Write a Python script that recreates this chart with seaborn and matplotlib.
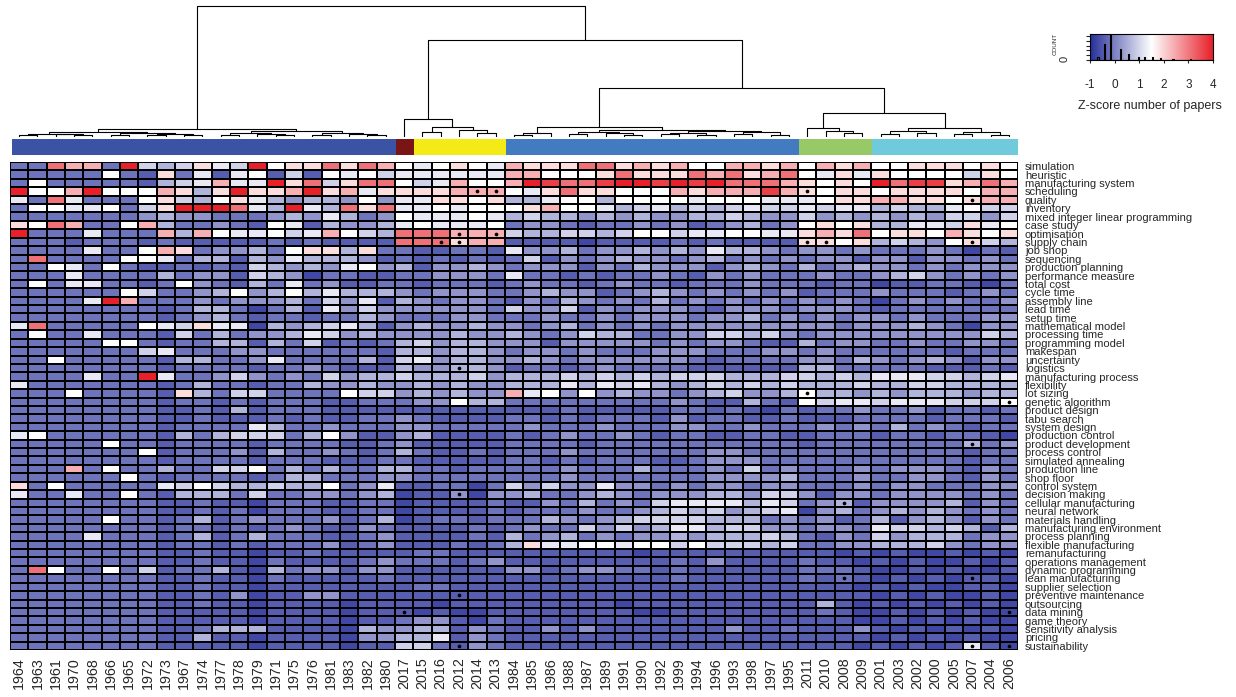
import numpy as np
import pandas as pd
import matplotlib
matplotlib.use("Agg")
import matplotlib.pyplot as plt
import seaborn as sns
from matplotlib.colors import LinearSegmentedColormap, ListedColormap

sns.set_style("white")
plt.rcParams["font.family"] = ["Liberation Sans", "DejaVu Sans"]

# ---------------- data ----------------
years = [1964, 1963, 1961, 1970, 1968, 1966, 1965, 1972, 1973, 1967, 1974, 1977, 1978, 1979,
         1971, 1975, 1976, 1981, 1983, 1982, 1980,
         2017, 2015, 2016, 2012, 2014, 2013,
         1984, 1985, 1986, 1988, 1987, 1989, 1991, 1990, 1992, 1999, 1994, 1996, 1993, 1998,
         1997, 1995,
         2011, 2010, 2008, 2009,
         2001, 2003, 2002, 2000, 2005, 2007, 2004, 2006]

terms = ["simulation", "heuristic", "manufacturing system", "scheduling", "quality", "inventory",
         "mixed integer linear programming", "case study", "optimisation", "supply chain",
         "job shop", "sequencing", "production planning", "performance measure", "total cost",
         "cycle time", "assembly line", "lead time", "setup time", "mathematical model",
         "processing time", "programming model", "makespan", "uncertainty", "logistics",
         "manufacturing process", "flexibility", "lot sizing", "genetic algorithm",
         "product design", "tabu search", "system design", "production control",
         "product development", "process control", "simulated annealing", "production line",
         "shop floor", "control system", "decision making", "cellular manufacturing",
         "neural network", "materials handling", "manufacturing environment", "process planning",
         "flexible manufacturing", "remanufacturing", "operations management",
         "dynamic programming", "lean manufacturing", "supplier selection",
         "preventive maintenance", "outsourcing", "data mining", "game theory",
         "sensitivity analysis", "pricing", "sustainability"]

# z-score, one character per cell
level_z = {"0": -0.70, "1": -0.42, "2": -0.17, "3": 0.22, "4": 0.59, "5": 0.96, "6": 1.24,
           "7": 1.50, "8": 1.88, "9": 2.39, "a": 3.10, "r": 3.65, "b": 4.00}

z_codes = [
    "22a992b545865b788a8a9" "7678769888aa8989779989" "798977888787",
    "222227218261671517675" "666666997778a888a9a89a" "768687777587",
    "27222221456966b8a58aa" "7569779braarbbrbrbaaa9" "8787barr89a9",
    "b779b7779848b889b8968" "888999768a8877798999r9" "878878888799",
    "62a622278547864344373" "6688784467747777677766" "678899887899",
    "277667258bbba64b64a8a" "6676777897764564545655" "656645446755",
    "222222234332223436423" "7666764544343433445433" "534343435535",
    "87a922794223217614334" "6766672332122323123423" "787844665867",
    "b22262229497667569754" "aaa9995445545775667766" "898a78879878",
    "222122212111112121111" "aaa8991111011112121111" "887845437854",
    "222262279823342788482" "2112216334233434364432" "332322232021",
    "2a2222776244143644431" "2121212513234332342323" "233133133232",
    "227627211212154343673" "4133432333132433313432" "423433232333",
    "222622224233154302211" "2233326221212232132322" "232234532323",
    "272662212732142623112" "2122212322123221222322" "212201122102",
    "222222752234734746444" "3233322343312343232323" "122232221232",
    "22226b922232333425361" "4323321324323242323232" "323202323223",
    "2222222212442024163" "533333325335132333" "213332333212222222",
    "2222222212342122122" "432223322232232333" "233423232332322233",
    "6a22222765866043456" "413433433234232323" "333333332333432033",
    "2722622215242334653" "433334334323544223" "355453233333333354",
    "2222277212244142512" "124534433313333323" "233211423322322332",
    "2222222562223322222" "214434432332322233" "322233232222221222",
    "2272222214422362222" "415634433432333333" "212222332432343133",
    "2222222212222122321" "114334431221232222" "111111442222211121",
    "2222622b62235323253" "445444534445454545" "554445545466655456",
    "6222222212422122433" "433434334446465643" "454545444544554444",
    "2227222218425522227" "553434339673734332" "345334744343444344",
    "2222222212212122211" "222337442222222223" "211421756656665557",
    "2222222211214122211" "111111111112111112" "212102122322312212",
    "2222222211211121211" "223211112212122213" "122112111222212221",
    "2222222212222642232" "223322222322232223" "322322232324232122",
    "6722222214245552473" "113411112123223212" "211221122212212210",
    "2222272212222122221" "123111112222122222" "222222122222222423",
    "2222222712223142232" "124211212223222222" "233222222222222122",
    "2222222212222122211" "122111112212122211" "233322222222222122",
    "2229272242255724242" "244221222223222422" "232523222323332132",
    "2222227212222124422" "233222222223222222" "233334222322332132",
    "8272222265754454472" "361122025353363323" "233233222323322233",
    "6226227214442522332" "340113033422343233" "344355313323333232",
    "2222222211211022211" "220111121132423256" "666465234133334132",
    "2222222211212022211" "220111121222322345" "453456034234343232",
    "2222272212412322231" "240122122243234555" "544423231241343132",
    "2222222212212123211" "321111212322535346" "645533233265545414",
    "2222622212412422211" "231111214234232334" "344454213253444233",
    "2222222212212122231" "231112124866776775" "755545223344453233",
    "2222222211211011211" "111221111111111011" "111111110101001010",
    "2222222211211021111" "232221231111111112" "131111211010100101",
    "2a72272512241042331" "331111113312332212" "111111222100101001",
    "2222222211211021111" "121111111111111112" "111111212101010110",
    "2222222211211011111" "111221111111111111" "111111111010100110",
    "2222222211213011331" "111111111111111111" "111111111101010010",
    "2222222211211011110" "111101111111110111" "111111141010101010",
    "2222222211111011110" "111010011111111001" "111111121001010100",
    "2222222211111011110" "112331021111111111" "111111111001010100",
    "2222222211244411110" "433441321131311111" "113112111310101010",
    "2222222211411011110" "334461321111111111" "111111111101010100",
    "2222222211111011110" "115521321111111111" "111111111010101610",
]

# column cluster membership and colours
col_groups = [0] * 21 + [1] + [2] * 5 + [3] * 16 + [4] * 4 + [5] * 8
group_colors = ["#3a53a4", "#7a1515", "#f4ea16", "#427bbf", "#97c967", "#6fcbdc"]

# marked cells (term, year)
dots = [("scheduling", 2014), ("scheduling", 2013), ("scheduling", 2011),
        ("quality", 2007),
        ("optimisation", 2012), ("optimisation", 2013),
        ("supply chain", 2016), ("supply chain", 2012), ("supply chain", 2011),
        ("supply chain", 2010), ("supply chain", 2007),
        ("logistics", 2012), ("lot sizing", 2011), ("genetic algorithm", 2006),
        ("product development", 2007), ("decision making", 2012),
        ("cellular manufacturing", 2008), ("lean manufacturing", 2008),
        ("lean manufacturing", 2007), ("preventive maintenance", 2012),
        ("data mining", 2017), ("data mining", 2006),
        ("sustainability", 2012), ("sustainability", 2007), ("sustainability", 2006)]

# column dendrogram: (height, left, right); leaves are column positions
tree_left = (8, (5, (3, (2, 0, 1), (2.5, 2, (1.5, 3, 4))),
                 (4, (2, 5, 6), (3, (2, 7, 8), (1.5, 9, 10)))),
             (6, (4, (2, 11, 12), (3, 13, (2, 14, 15))),
                 (3.5, (2, 16, 17), (2.5, 18, (1.5, 19, 20)))))
tree_yellow = (18, 21, (10, (5, 22, 23), (7, 24, (4, 25, 26))))
tree_blue = (10, (4, (2, 27, 28), 29),
             (7, (5, (3, 30, 31), (4, 32, (2, 33, 34))),
                 (6, (4, (3, 35, 36), (2, 37, 38)), (5, (3, 39, 40), (2, 41, 42)))))
tree_green = (9, 43, (6, 44, (4, 45, 46)))
tree_cyan = (9, (6, (3, 47, 48), (4, 49, 50)), (5, (3, 51, 52), (2, 53, 54)))
tree = (129, tree_left, (96, tree_yellow, (48, tree_blue, (24, tree_green, tree_cyan))))

# ---------------- build ----------------
for i, row in enumerate(z_codes):
    if len(row) != len(years):
        raise ValueError(f"row {i} ({terms[i]}) has {len(row)} cells")
Z = np.array([[level_z[c] for c in row] for row in z_codes])
df = pd.DataFrame(Z, index=terms, columns=[str(y) for y in years])

W, H = 1236, 697
fig = plt.figure(figsize=(W / 100, H / 100), dpi=100)


def ax_px(x0, y0, x1, y1):
    return fig.add_axes([x0 / W, 1 - y1 / H, (x1 - x0) / W, (y1 - y0) / H])


cmap = LinearSegmentedColormap.from_list("zkey", ["#262f99", "#ffffff", "#e8202a"])

# heatmap
ax = ax_px(10, 162, 1018, 650)
sns.heatmap(df, cmap=cmap, vmin=-1, vmax=4, linewidths=1.2, linecolor="black",
            cbar=False, ax=ax, xticklabels=True, yticklabels=True)
for term, yr in dots:
    ax.scatter(years.index(yr) + 0.5, terms.index(term) + 0.5, s=7, color="black",
               zorder=5, linewidths=0)
ax.yaxis.tick_right()
ax.set_yticks(np.arange(len(terms)) + 0.5)
ax.set_yticklabels(terms, rotation=0, fontsize=8)
ax.set_xticks(np.arange(len(years)) + 0.5)
ax.set_xticklabels([str(y) for y in years], rotation=90, fontsize=10.3)
ax.tick_params(axis="y", length=0, pad=5)
ax.tick_params(axis="x", length=0, pad=5)
ax.set_xlabel("")
ax.set_ylabel("")

# cluster colour strip
ax_s = ax_px(12, 139, 1018, 155)
sns.heatmap(np.array([col_groups]), cmap=ListedColormap(group_colors), vmin=-0.5, vmax=5.5,
            cbar=False, xticklabels=False, yticklabels=False, ax=ax_s)

# dendrogram
ax_d = ax_px(10, 5, 1018, 137)


def draw(node):
    if isinstance(node, int):
        return node + 0.5, 0.0
    h, l, r = node
    xl, hl = draw(l)
    xr, hr = draw(r)
    ax_d.plot([xl, xl, xr, xr], [hl, h, h, hr], color="black", lw=0.8,
              solid_capstyle="butt")
    return (xl + xr) / 2, h


draw(tree)
ax_d.set_xlim(0, len(years))
ax_d.set_ylim(0, 130)
ax_d.axis("off")

# colour key with histogram
ax_k = ax_px(1090, 34, 1213, 60)
counts, edges = np.histogram(Z.ravel(), bins=np.linspace(-1, 4, 101))
ymax = counts.max() * 1.04
ax_k.imshow(np.linspace(-1, 4, 256)[None, :], extent=[-1, 4, 0, ymax], aspect="auto",
            cmap=cmap, vmin=-1, vmax=4)
ax_k.step(edges[:-1], counts, where="post", color="black", lw=0.8)
ax_k.set_xlim(-1, 4)
ax_k.set_ylim(0, ymax)
ax_k.set_xticks([-1, 0, 1, 2, 3, 4])
ax_k.set_xticklabels(["-1", "0", "1", "2", "3", "4"])
yt = np.linspace(0, ymax * 0.92, 6)
ax_k.set_yticks(yt)
ax_k.set_yticklabels(["0"] + [""] * 5)
ax_k.tick_params(axis="x", length=2.5, pad=11, labelsize=8.5, direction="out", bottom=True)
ax_k.tick_params(axis="y", length=3, pad=12, labelsize=8, labelrotation=90, direction="out",
                 left=True)
for sp in ax_k.spines.values():
    sp.set_color("black")
    sp.set_linewidth(0.8)
fig.text(1055 / W, 1 - 44 / H, "COUNT", rotation=90, fontsize=4.5, ha="center", va="center")
fig.text(1150 / W, 1 - 106 / H, "Z-score number of papers", fontsize=9, ha="center",
         va="center")

fig.savefig("out.png", dpi=100)
